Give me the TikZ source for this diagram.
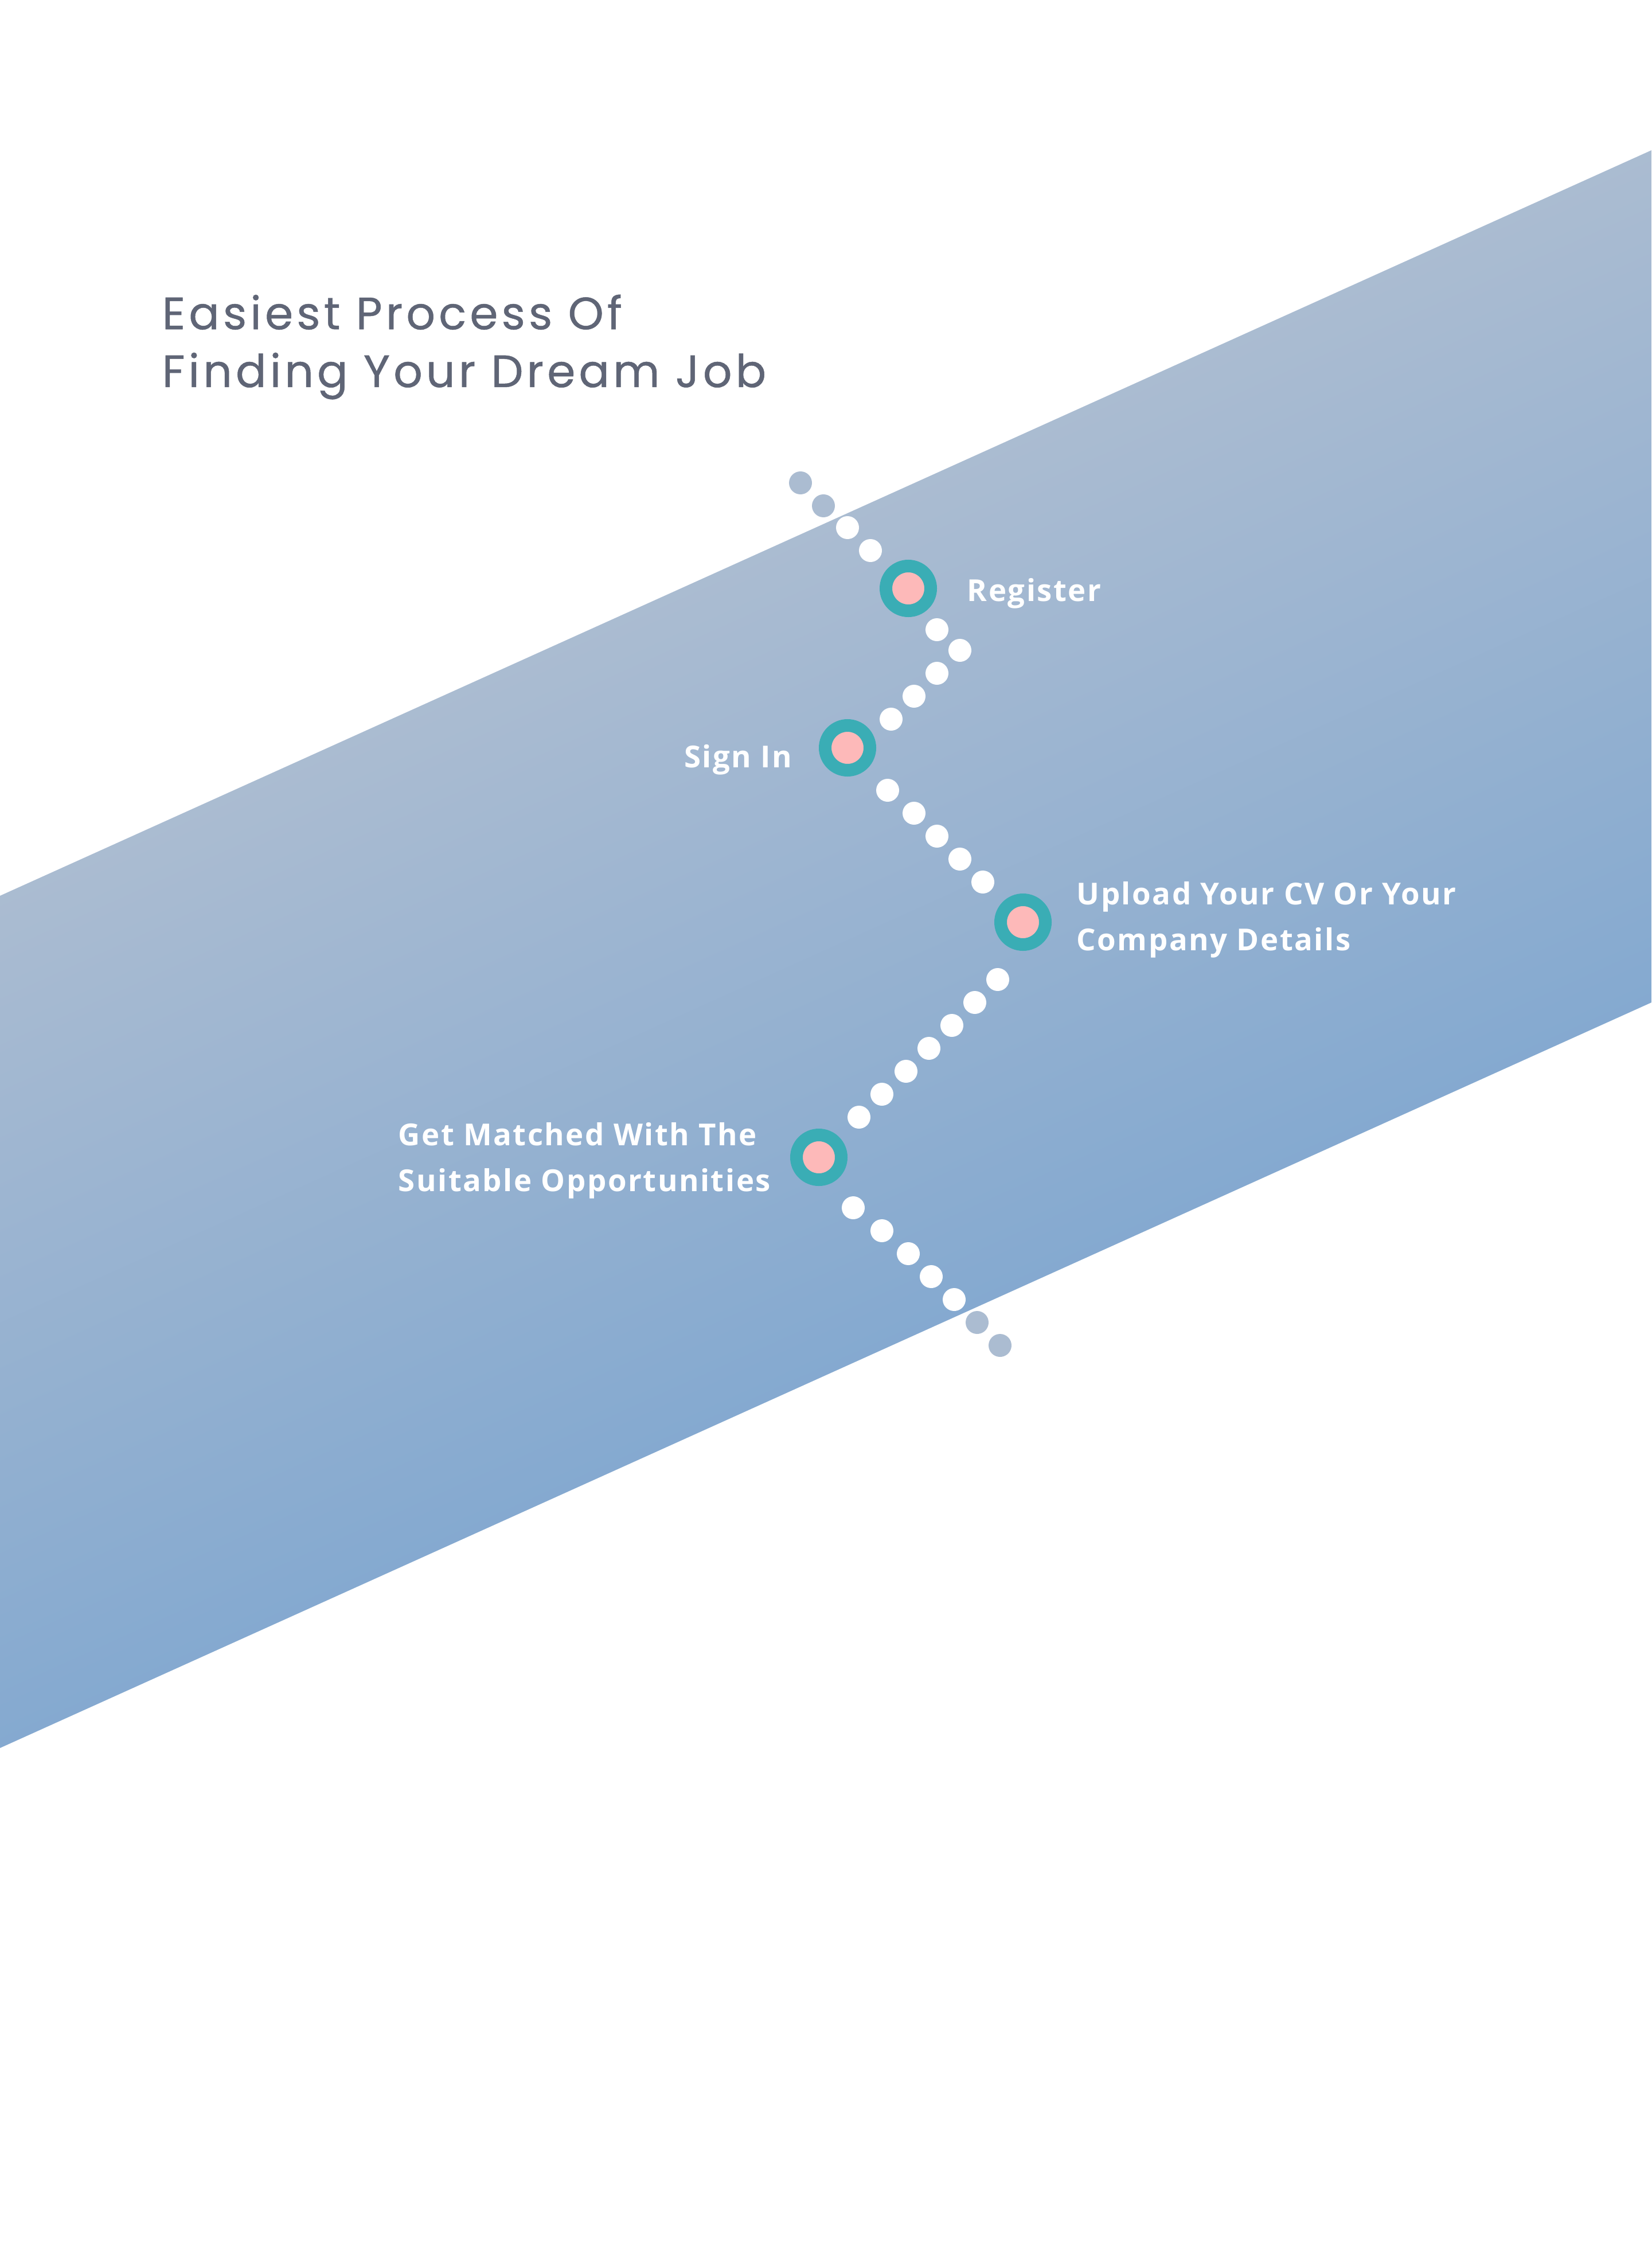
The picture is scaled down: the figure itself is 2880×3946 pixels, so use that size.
\documentclass[tikz,border=0pt]{standalone}
\usepackage{fontspec}
\setmainfont{Open Sans}
\newfontfamily\titlefont[LetterSpace=7.8, FakeBold=0.6]{Poppins}
\newfontfamily\labelfont[LetterSpace=4.8]{Open Sans}
\definecolor{bandtop}{HTML}{ABBCD1}
\definecolor{bandbot}{HTML}{84A9D0}
\definecolor{stepteal}{HTML}{3AADB5}
\definecolor{steppink}{HTML}{FDB9B9}
\definecolor{titlegray}{HTML}{5F6576}
\definecolor{dotgray}{HTML}{ABBCD1}
\tikzset{
  dotnode/.style={circle, inner sep=0pt, minimum size=4mm, fill=white},
  graydot/.style={dotnode, fill=dotgray},
  stepnode/.style={circle, inner sep=0pt, minimum size=7.8mm, fill=steppink, draw=stepteal, line width=2.2mm},
  steplabel/.style={text=white, inner sep=0pt, font=\labelfont\bfseries\fontsize{15}{22.5}\selectfont},
  titletext/.style={text=titlegray, inner sep=0pt, font=\titlefont\fontsize{22.5}{28.7}\selectfont}
}
\begin{document}
\begin{tikzpicture}[x=0.1mm, y=-0.1mm]
\useasboundingbox (0,0) rectangle (2880,3946);
\fill[white] (0,0) rectangle (2880,3946);
% band
\begin{scope}
\clip (0,1562) -- (2880,262) -- (2880,1748) -- (0,3048) -- cycle;
\begin{scope}[transform canvas={shift={(0,1562)}, rotate=24.3}]
\shade[top color=bandtop, bottom color=bandbot] (-800,-20) rectangle (3400,1375);
\end{scope}
\end{scope}
% title
\node[titletext, anchor=base west, align=left] (title) at (282,675) {Easiest Process Of\\Finding Your Dream Job};
% dots
\foreach \x/\y [count=\i] in {1396/842, 1436/882, 1704/2306, 1744/2346}
  \node[graydot] (g\i) at (\x,\y) {};
\foreach \x/\y [count=\i] in {1478/920, 1518/960,
  1634/1098, 1674/1134, 1634/1174, 1594/1214, 1554/1254,
  1548/1378, 1594/1418, 1634/1458, 1674/1498, 1714/1538,
  1740/1708, 1700/1748, 1660/1788, 1620/1828, 1580/1868, 1538/1908, 1498/1948,
  1488/2106, 1538/2146, 1584/2186, 1624/2226, 1664/2266}
  \node[dotnode] (w\i) at (\x,\y) {};
% steps
\node[stepnode] (s1) at (1584,1026) {};
\node[stepnode] (s2) at (1478,1304) {};
\node[stepnode] (s3) at (1784,1608) {};
\node[stepnode] (s4) at (1428,2018) {};
% labels
\node[steplabel, anchor=base west] (t1) at (1686,1048) {Register};
\node[steplabel, anchor=base east] (t2) at (1382,1338) {Sign In};
\node[steplabel, anchor=base west, align=left] (t3) at (1877,1657) {Upload Your CV Or Your\\Company Details};
\node[steplabel, anchor=base west, align=left] (t4) at (694,2077) {Get Matched With The\\Suitable Opportunities};
\end{tikzpicture}
\end{document}
